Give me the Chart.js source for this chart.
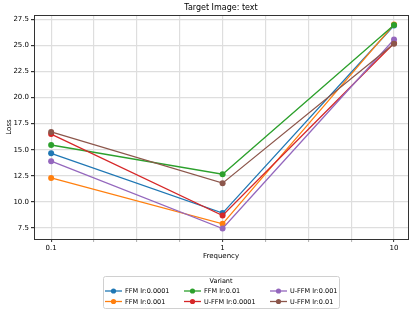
<!DOCTYPE html>
<html>
<head>
<meta charset="utf-8">
<script src="https://cdn.jsdelivr.net/npm/chart.js@4/dist/chart.umd.min.js"></script>
<style>
html,body{margin:0;padding:0;background:#fff;}
#wrap{width:416px;height:313px;position:relative;}
</style>
</head>
<body>
<div id="wrap"><canvas id="c" width="416" height="313"></canvas></div>
<script>
const frequencies = [0.1, 1, 10];
const seriesNames = ['FFM lr:0.0001','FFM lr:0.001','FFM lr:0.01','U-FFM lr:0.0001','U-FFM lr:0.001','U-FFM lr:0.01'];
const ffm_0001  = [14.65, 8.93, 26.9];
const ffm_001   = [12.3, 7.9, 27.0];
const ffm_01    = [15.45, 12.65, 26.95];
const uffm_0001 = [16.5, 8.7, 25.2];
const uffm_001  = [13.9, 7.45, 25.55];
const uffm_01   = [16.7, 11.8, 25.15];
const seriesValues = [ffm_0001, ffm_001, ffm_01, uffm_0001, uffm_001, uffm_01];
const colors = ['#1f77b4','#ff7f0e','#2ca02c','#d62728','#9467bd','#8c564b'];
const yTicks = [7.5, 10.0, 12.5, 15.0, 17.5, 20.0, 22.5, 25.0, 27.5];
const xTickExps = [-4,-3,-2,-1,0,1,2,3,4];
const xLabels = {'-4':'0.1','0':'1','4':'10'};
const FONT = 'DejaVu Sans';

const datasets = seriesNames.map((n,i)=>({
  label:n,
  data: frequencies.map((f,j)=>({x:f,y:seriesValues[i][j]})),
  borderColor: colors[i], backgroundColor: colors[i],
  borderWidth: 1.3, pointRadius: 3, pointHoverRadius: 3,
  pointBorderWidth: 0, order: 10 - i, tension: 0
}));

const deco = {
  id:'deco',
  afterDraw(chart){
    const ctx = chart.ctx, a = chart.chartArea;
    ctx.save();
    ctx.strokeStyle = '#333'; ctx.lineWidth = 1;
    ctx.strokeRect(Math.round(a.left)+0.5, Math.round(a.top)+0.5, Math.round(a.right-a.left), Math.round(a.bottom-a.top));
    // title
    ctx.fillStyle = '#000'; ctx.font = '8px "'+FONT+'"';
    ctx.textAlign = 'center'; ctx.textBaseline = 'middle';
    ctx.fillText('Target Image: text', (a.left+a.right)/2, 7.5);
    // legend
    const bx = 103, by = 276, bw = 236, bh = 32;
    ctx.strokeStyle = '#d0d0d0'; ctx.lineWidth = 1;
    ctx.beginPath();
    if (ctx.roundRect) ctx.roundRect(bx+0.5, by+0.5, bw, bh, 2); else ctx.rect(bx+0.5,by+0.5,bw,bh);
    ctx.fillStyle = 'rgba(255,255,255,0.8)'; ctx.fill(); ctx.stroke();
    ctx.fillStyle = '#000'; ctx.font = '6.5px "'+FONT+'"';
    ctx.fillText('Variant', bx + bw/2, 281.5);
    const colX = [105, 184, 270];
    const rowY = [291, 301.5];
    ctx.textAlign = 'left';
    seriesNames.forEach((n,i)=>{
      const col = Math.floor(i/2), row = i%2;
      const x = colX[col], y = rowY[row];
      ctx.strokeStyle = colors[i]; ctx.lineWidth = 1.3;
      ctx.beginPath(); ctx.moveTo(x, y); ctx.lineTo(x+17, y); ctx.stroke();
      ctx.fillStyle = colors[i];
      ctx.beginPath(); ctx.arc(x+8.5, y, 2.6, 0, Math.PI*2); ctx.fill();
      ctx.fillStyle = '#000';
      ctx.fillText(n, x+20, y+0.5);
    });
    ctx.restore();
  }
};

new Chart(document.getElementById('c'), {
  type:'line',
  data:{datasets},
  options:{
    responsive:false, animation:false, devicePixelRatio:1,
    layout:{padding:{top:15,right:8,left:0,bottom:49}},
    plugins:{legend:{display:false}, title:{display:false}, tooltip:{enabled:false}},
    scales:{
      x:{
        type:'logarithmic', min: Math.pow(10,-1.1), max: Math.pow(10,1.0815),
        afterBuildTicks(s){ s.ticks = xTickExps.map(k=>({value:Math.pow(10,k/4)})); },
        afterFit(s){ s.height = 25; },
        border:{display:false},
        grid:{color:'#dedede', lineWidth:1.2, tickLength:3,
          tickColor:(c)=> (c.index%4===0 ? '#333' : '#777'),
          tickWidth:(c)=> (c.index%4===0 ? 1 : 0.6)},
        ticks:{autoSkip:false, maxRotation:0, padding:2, color:'#000',
          font:{family:FONT,size:7},
          callback:(v,i)=> xLabels[String(xTickExps[i])] || ''},
        title:{display:true, text:'Frequency', color:'#000', font:{family:FONT,size:7}, padding:{top:2,bottom:4}}
      },
      y:{
        type:'linear', min:6.45, max:27.9,
        afterBuildTicks(s){ s.ticks = yTicks.map(v=>({value:v})); },
        afterFit(s){ s.width = 34; },
        border:{display:false},
        grid:{color:'#dedede', lineWidth:1.2, tickLength:3, tickColor:'#333'},
        ticks:{padding:2, color:'#000', font:{family:FONT,size:7},
          callback:(v)=> Number(v).toFixed(1)},
        title:{display:true, text:'Loss', color:'#000', font:{family:FONT,size:7}, padding:{top:4.5,bottom:2}}
      }
    }
  },
  plugins:[deco]
});
</script>
</body>
</html>
